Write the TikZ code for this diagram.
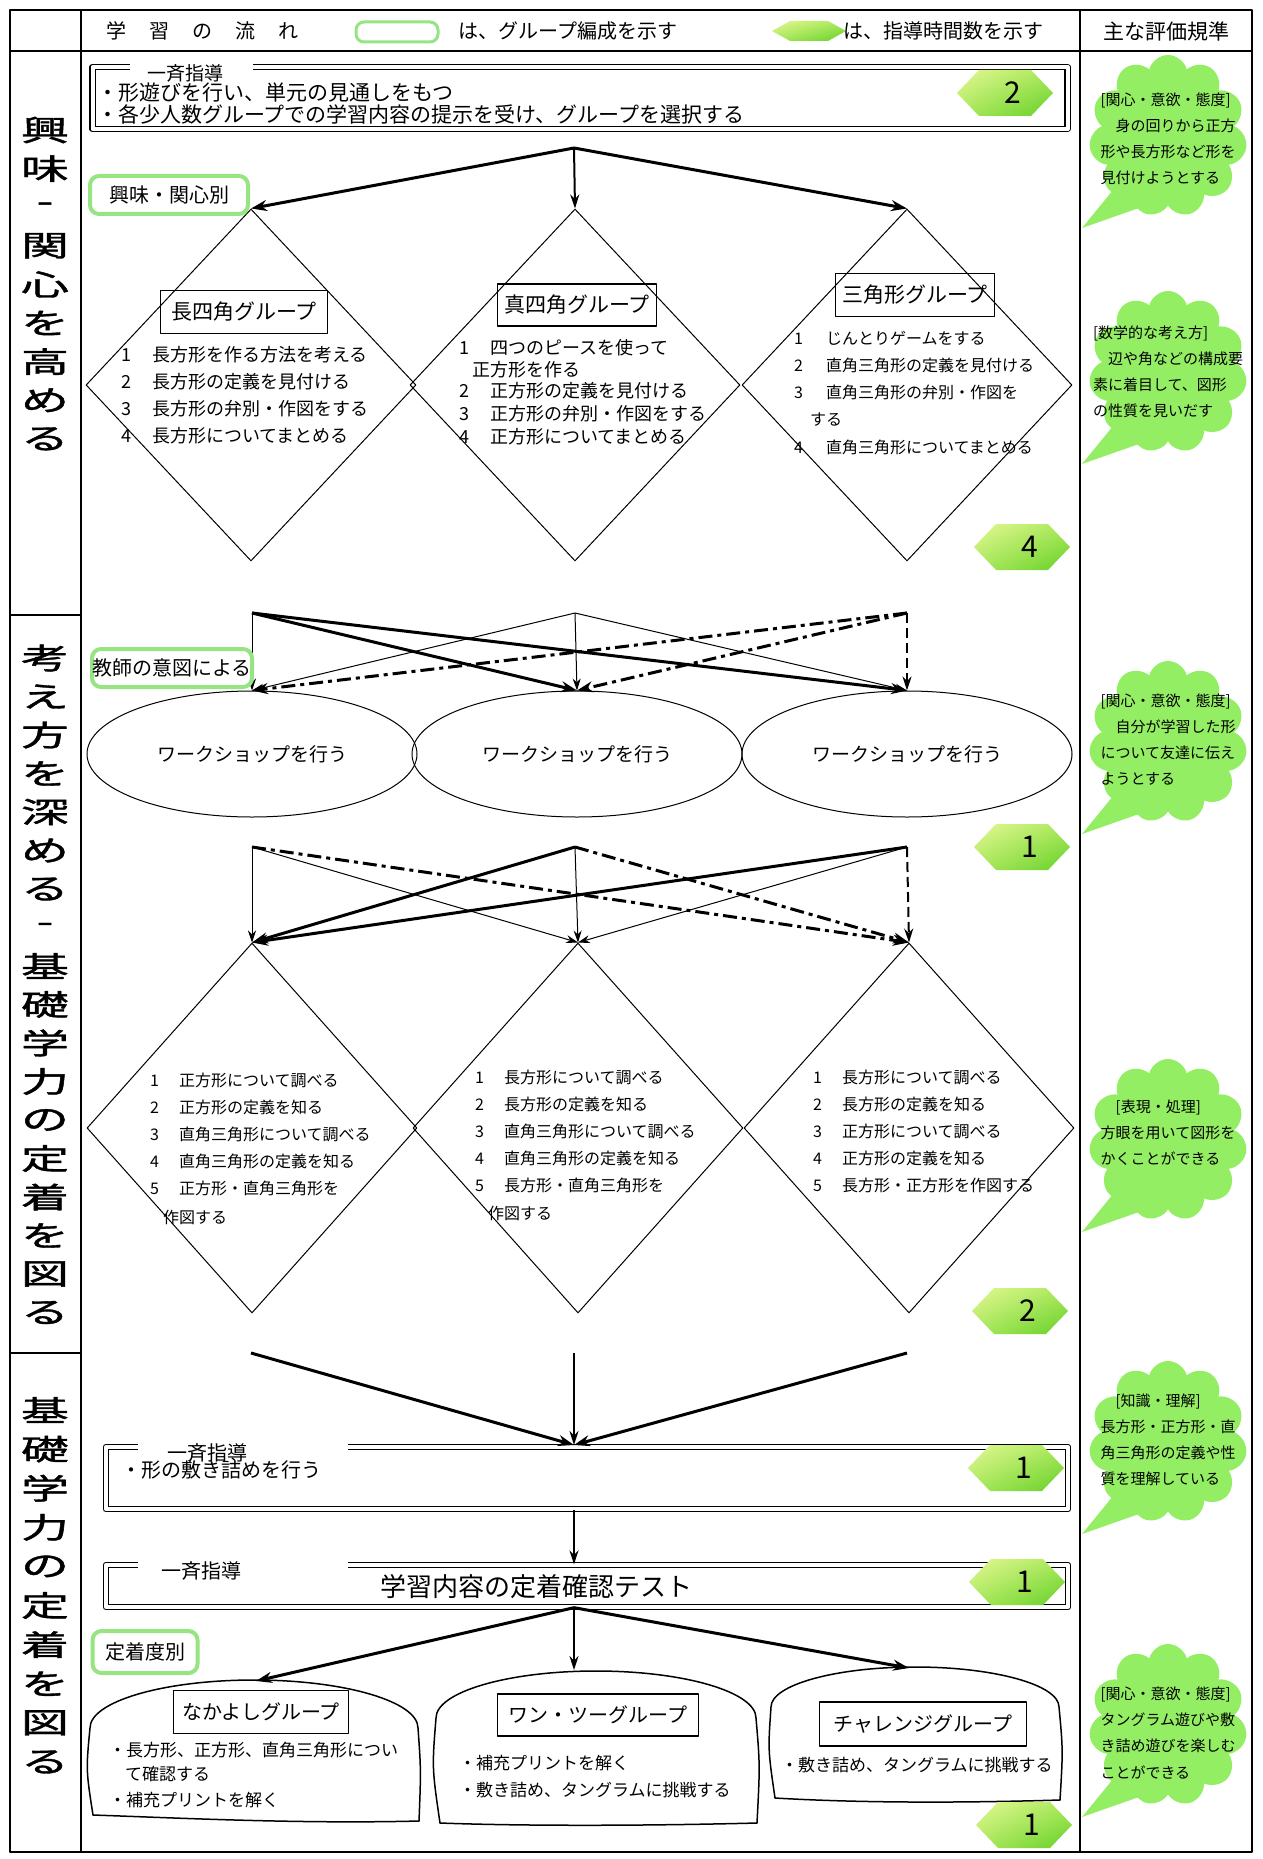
\documentclass[tikz,border=0pt]{standalone}
\usepackage{fontspec}
\usepackage{graphicx}
\setmainfont{Noto Sans CJK JP}
\newfontfamily\colfont[FakeBold=1.2]{Noto Sans CJK JP}
\usetikzlibrary{arrows.meta,shapes.geometric,shapes.symbols,calc,shadings}
\definecolor{bub}{RGB}{148,238,100}
\definecolor{glow}{RGB}{150,228,130}
\definecolor{hexA}{RGB}{228,248,150}
\definecolor{hexM}{RGB}{170,232,90}
\definecolor{hexB}{RGB}{100,208,40}
\newcommand{\fz}[1]{\fontsize{#1}{#1}\selectfont}
\newcommand{\wide}[1]{\scalebox{1.65}[1]{#1}}
\newcommand{\hexnum}[4]{%
  \shade[upper left=hexA,upper right=hexM,lower left=hexM,lower right=hexB]
    (#2-48,#3) -- (#2-26,#3-23) -- (#2+26,#3-23) -- (#2+48,#3) -- (#2+26,#3+23) -- (#2-26,#3+23) -- cycle;
  \node[numtxt] (#1) at (#2+8,#3) {#4};}
\tikzset{
 tbl/.style={line width=2.5pt},
 thk/.style={line width=3pt,-{Stealth[length=16pt,width=11pt]}},
 med/.style={line width=2pt,-{Stealth[length=14pt,width=9pt]}},
 thn/.style={line width=1pt,-{Stealth[length=12pt,width=8pt]}},
 ddot/.style={line width=3pt,dash pattern=on 14pt off 5pt on 4pt off 5pt,-{Stealth[length=16pt,width=11pt]}},
 dsh/.style={line width=2pt,dash pattern=on 10pt off 5pt,-{Stealth[length=14pt,width=9pt]}},
 dia/.style={diamond,draw,line width=1pt,minimum width=330pt,inner sep=0pt},
 ell/.style={ellipse,draw,line width=1pt,minimum width=330pt,minimum height=126pt,inner sep=0pt,font=\fz{19}},
 gbox/.style={draw,line width=1.2pt,inner sep=0pt,font=\fz{21}},
 lbl/.style={draw=glow,line width=4pt,rounded corners=9pt,fill=white,inner sep=0pt,font=\fz{20}},
 dbox/.style={draw,double,double distance=4pt,line width=1.3pt,inner sep=0pt},
 txt/.style={anchor=west,inner sep=0pt},
 numtxt/.style={font=\fz{30}},
 bubble/.style={cloud,cloud puffs=11,aspect=1,fill=bub,inner sep=0pt,minimum width=158pt,minimum height=162pt},
 bubtxt/.style={align=left,inner sep=0pt,font=\fontsize{15}{26}\selectfont},
 colchar/.style={font=\colfont\fz{29},inner sep=0pt},
 dome/.style={line width=1.5pt},
}
\begin{document}
\begin{tikzpicture}[x=1pt,y=-1pt,line join=round]
\useasboundingbox (0,0) rectangle (1262,1859);
\fill[white] (0,0) rectangle (1262,1859);
% ---------- table
\draw[tbl] (10,10) rectangle (1252,1852);
\draw[tbl] (81,10) -- (81,1852);
\draw[tbl] (1080,10) -- (1080,1852);
\draw[tbl] (10,51) -- (1252,51);
\draw[tbl] (10,615) -- (81,615);
\draw[tbl] (10,1353) -- (81,1353);
% ---------- header
\node[txt,font=\fz{20}] (h1) at (106,31) {学\hspace{23pt}習\hspace{23pt}の\hspace{23pt}流\hspace{23pt}れ};
\node[draw=glow,line width=3pt,rounded corners=8pt,fill=white,minimum width=82pt,minimum height=20pt,inner sep=0pt] (hleg) at (397,32) {};
\node[txt,font=\fz{20}] (h2) at (458,31) {は、グループ編成を示す};
\shade[upper left=hexA,upper right=hexM,lower left=hexM,lower right=hexB]
  (772,31) -- (790,21) -- (828,21) -- (846,31) -- (828,41) -- (790,41) -- cycle;
\node[txt,font=\fz{20}] (h3) at (843,31) {は、指導時間数を示す};
\node[font=\fz{21}] (h4) at (1166,31) {主な評価規準};
% ---------- left column
\foreach \c [count=\i] in {興,味,-,関,心,を,高,め,る}
  \node[colchar] (ca\i) at (45,130+38.6*\i-38.6) {\wide{\c}};
\foreach \c [count=\i] in {考,え,方,を,深,め,る,-,基,礎,学,力,の,定,着,を,図,る}
  \node[colchar] (cb\i) at (45,658+38.5*\i-38.5) {\wide{\c}};
\foreach \c [count=\i] in {基,礎,学,力,の,定,着,を,図,る}
  \node[colchar] (cc\i) at (45,1410+39.1*\i-39.1) {\wide{\c}};
% ---------- right column bubbles
\newcommand{\bubtail}[2]{\fill[bub] (#1-50,#2+48) -- (#1-86,#2+92) -- (#1-12,#2+66) -- cycle;}
\bubtail{1168}{136}
\node[bubble] (b1) at (1168,136) {};
\node[bubtxt] (bt1) at (1168,139) {{}[関心・意欲・態度]\\　身の回りから正方\\形や長方形など形を\\見付けようとする};
\bubtail{1168}{372}
\node[bubble] (b2) at (1168,372) {};
\node[bubtxt] (bt2) at (1168,372) {{}[数学的な考え方]\\　辺や角などの構成要\\素に着目して、図形\\の性質を見いだす};
\bubtail{1168}{742}
\node[bubble] (b3) at (1168,742) {};
\node[bubtxt] (bt3) at (1168,740) {{}[関心・意欲・態度]\\　自分が学習した形\\について友達に伝え\\ようとする};
\bubtail{1168}{1140}
\node[bubble] (b4) at (1168,1140) {};
\node[bubtxt] (bt4) at (1168,1133) {　[表現・処理]\\方眼を用いて図形を\\かくことができる};
\bubtail{1168}{1442}
\node[bubble] (b5) at (1168,1442) {};
\node[bubtxt] (bt5) at (1168,1440) {　[知識・理解]\\長方形・正方形・直\\角三角形の定義や性\\質を理解している};
\bubtail{1168}{1725}
\node[bubble] (b6) at (1168,1725) {};
\node[bubtxt] (bt6) at (1168,1733) {{}[関心・意欲・態度]\\タングラム遊びや敷\\き詰め遊びを楽しむ\\ことができる};
% ---------- section 1
\node[dbox,minimum width=975pt,minimum height=62pt] (bx1) at (580,98) {};
\fill[white] (130,58) rectangle (253,78);
\node[font=\fz{19},inner sep=0pt] (bl1) at (185,73) {一斉指導};
\node[txt,font=\fz{21}] (bt1a) at (97,93) {・形遊びを行い、単元の見通しをもつ};
\node[txt,font=\fz{21}] (bt1b) at (97,114) {・各少人数グループでの学習内容の提示を受け、グループを選択する};
\hexnum{n1}{1005}{93}{2}
\node[dia,minimum height=352pt] (dA1) at (251,385) {};
\node[dia,minimum height=352pt] (dB1) at (575,385) {};
\node[dia,minimum height=352pt] (dC1) at (907,385) {};
\coordinate (s1) at (574,148);
\draw[thk] (s1) -- (dA1.north);
\draw[med] (s1) -- (dB1.north);
\draw[thk] (s1) -- (dC1.north);
\node[lbl,minimum width=158pt,minimum height=38pt] (lab1) at (169,195) {興味・関心別};
\node[gbox,minimum width=167pt,minimum height=43pt] (gA1) at (244,312) {長四角グループ};
\node[gbox,minimum width=159pt,minimum height=42pt] (gB1) at (577,305) {真四角グループ};
\node[gbox,minimum width=159pt,minimum height=43pt] (gC1) at (915,295) {三角形グループ};
\foreach \t [count=\i] in {長方形を作る方法を考える,長方形の定義を見付ける,長方形の弁別・作図をする,長方形についてまとめる}
  \node[txt,font=\fz{18}] (ta\i) at (121,355+26.8*\i-26.8) {\i\hspace{21pt}\t};
\node[txt,font=\fz{18}] (tb1) at (459,348) {1\hspace{21pt}四つのピースを使って};
\node[txt,font=\fz{18}] (tb2) at (472,370) {正方形を作る};
\node[txt,font=\fz{18}] (tb3) at (459,391) {2\hspace{21pt}正方形の定義を見付ける};
\node[txt,font=\fz{18}] (tb4) at (459,414) {3\hspace{21pt}正方形の弁別・作図をする};
\node[txt,font=\fz{18}] (tb5) at (459,437) {4\hspace{21pt}正方形についてまとめる};
\node[txt,font=\fz{16}] (tc1) at (794,338) {1\hspace{23pt}じんとりゲームをする};
\node[txt,font=\fz{16}] (tc2) at (794,365) {2\hspace{23pt}直角三角形の定義を見付ける};
\node[txt,font=\fz{16}] (tc3) at (794,392) {3\hspace{23pt}直角三角形の弁別・作図を};
\node[txt,font=\fz{16}] (tc4) at (810,420) {する};
\node[txt,font=\fz{16}] (tc5) at (794,447) {4\hspace{23pt}直角三角形についてまとめる};
\hexnum{n2}{1022}{547}{4}
% ---------- section 2
\coordinate (sA2) at (252,613);
\coordinate (sB2) at (575,613);
\coordinate (sC2) at (907,613);
\node[ell] (eA) at (252,754) {ワークショップを行う};
\node[ell] (eB) at (577,754) {ワークショップを行う};
\node[ell] (eC) at (907,754) {ワークショップを行う};
\draw[thn] (sA2) -- (eA.north);
\draw[thk] (sA2) -- (eB.north);
\draw[thk] (sA2) -- (eC.north);
\draw[thn] (sB2) -- (eA.north);
\draw[thn] (sB2) -- (eB.north);
\draw[thn] (sB2) -- (eC.north);
\draw[ddot] (sC2) -- (eA.north);
\draw[ddot] (sC2) -- (eB.north);
\draw[dsh] (sC2) -- (eC.north);
\node[lbl,minimum width=160pt,minimum height=38pt] (lab2) at (172,668) {教師の意図による};
\hexnum{n3}{1022}{847}{1}
% ---------- section 3
\coordinate (sA3) at (252,847);
\coordinate (sB3) at (575,847);
\coordinate (sC3) at (907,847);
\node[dia,minimum height=370pt] (dA2) at (252,1128) {};
\node[dia,minimum height=370pt] (dB2) at (578,1128) {};
\node[dia,minimum height=370pt] (dC2) at (909,1128) {};
\draw[thn] (sA3) -- (dA2.north);
\draw[thn] (sA3) -- (dB2.north);
\draw[ddot] (sA3) -- (dC2.north);
\draw[thk] (sB3) -- (dA2.north);
\draw[thn] (sB3) -- (dB2.north);
\draw[ddot] (sB3) -- (dC2.north);
\draw[thk] (sC3) -- (dA2.north);
\draw[thn] (sC3) -- (dB2.north);
\draw[dsh] (sC3) -- (dC2.north);
\foreach \t [count=\i] in {正方形について調べる,正方形の定義を知る,直角三角形について調べる,直角三角形の定義を知る,正方形・直角三角形を}
  \node[txt,font=\fz{16}] (ua\i) at (150,1080+27.2*\i-27.2) {\i\hspace{20pt}\t};
\node[txt,font=\fz{16}] (ua6) at (163,1217) {作図する};
\foreach \t [count=\i] in {長方形について調べる,長方形の定義を知る,直角三角形について調べる,直角三角形の定義を知る,長方形・直角三角形を}
  \node[txt,font=\fz{16}] (ub\i) at (475,1077+27.2*\i-27.2) {\i\hspace{20pt}\t};
\node[txt,font=\fz{16}] (ub6) at (488,1213) {作図する};
\foreach \t [count=\i] in {長方形について調べる,長方形の定義を知る,正方形について調べる,正方形の定義を知る,長方形・正方形を作図する}
  \node[txt,font=\fz{16}] (uc\i) at (813,1077+27.2*\i-27.2) {\i\hspace{20pt}\t};
\hexnum{n4}{1020}{1311}{2}
% ---------- section 4
\coordinate (sA4) at (251,1353);
\coordinate (sB4) at (574,1353);
\coordinate (sC4) at (907,1353);
\node[dbox,minimum width=962pt,minimum height=62pt] (bx2) at (587,1478) {};
\coordinate (t4) at (574,1445);
\draw[thk] (sA4) -- (t4);
\draw[med] (sB4) -- (t4);
\draw[thk] (sC4) -- (t4);
\fill[white] (138,1438) rectangle (348,1460);
\node[font=\fz{20},inner sep=0pt] (bl2) at (207,1453) {一斉指導};
\node[txt,font=\fz{20}] (bt2a) at (121,1470) {・形の敷き詰めを行う};
\hexnum{n5}{1016}{1468}{1}
\node[dbox,minimum width=962pt,minimum height=42pt] (bx3) at (587,1586) {};
\draw[med] (bx2.south -| sB4) -- (bx3.north -| sB4);
\fill[white] (138,1556) rectangle (348,1578);
\node[font=\fz{20},inner sep=0pt] (bl3) at (201,1571) {一斉指導};
\node[font=\fz{26},inner sep=0pt] (bt3a) at (536,1587) {学習内容の定着確認テスト};
\hexnum{n6}{1017}{1582}{1}
\node[lbl,minimum width=105pt,minimum height=42pt] (lab3) at (145,1652) {定着度別};
% domes
\draw[dome] (90,1728) arc[start angle=180,end angle=0,x radius=164pt,y radius=48pt]
  .. controls (421,1770) .. (419,1821) .. controls (300,1824) and (180,1818) .. (93,1815)
  .. controls (86,1770) .. (90,1728) -- cycle;
\draw[dome] (436,1718) arc[start angle=180,end angle=0,x radius=160pt,y radius=47pt]
  .. controls (760,1765) .. (757,1823) .. controls (640,1826) and (520,1826) .. (440,1823)
  .. controls (432,1768) .. (436,1718) -- cycle;
\draw[dome] (771,1707) arc[start angle=180,end angle=0,x radius=144pt,y radius=40pt]
  .. controls (1063,1750) .. (1060,1800) .. controls (960,1803) and (860,1803) .. (775,1798)
  .. controls (768,1750) .. (771,1707) -- cycle;
\coordinate (dtA) at (256,1681);
\coordinate (dtB) at (574,1670);
\coordinate (dtC) at (909,1668);
\draw[thk] (bx3.south -| sB4) -- (dtA);
\draw[med] (bx3.south -| sB4) -- (dtB);
\draw[thk] (bx3.south -| sB4) -- (dtC);
\node[gbox,font=\fz{20},minimum width=175pt,minimum height=43pt,fill=white] (gA2) at (261,1712) {なかよしグループ};
\node[gbox,font=\fz{20},minimum width=201pt,minimum height=42pt,fill=white] (gB2) at (598,1715) {ワン・ツーグループ};
\node[gbox,font=\fz{20},minimum width=207pt,minimum height=44pt,fill=white] (gC2) at (923,1724) {チャレンジグループ};
\node[txt,font=\fz{17}] (va1) at (109,1750) {・長方形、正方形、直角三角形につい};
\node[txt,font=\fz{17}] (va2) at (125,1774) {て確認する};
\node[txt,font=\fz{17}] (va3) at (109,1800) {・補充プリントを解く};
\node[txt,font=\fz{17}] (vb1) at (459,1763) {・補充プリントを解く};
\node[txt,font=\fz{17}] (vb2) at (459,1790) {・敷き詰め、タングラムに挑戦する};
\node[txt,font=\fz{17}] (vc1) at (781,1765) {・敷き詰め、タングラムに挑戦する};
\hexnum{n7}{1024}{1825}{1}
\end{tikzpicture}
\end{document}
